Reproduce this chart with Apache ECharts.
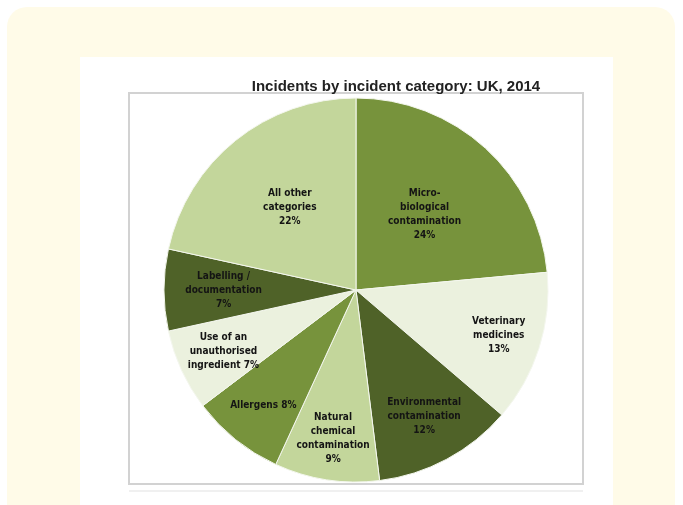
<!DOCTYPE html>
<html>
<head>
<meta charset="utf-8">
<script src="https://cdn.jsdelivr.net/npm/echarts@6/dist/echarts.min.js"></script>
<style>
html,body{margin:0;padding:0;background:#ffffff;}
#chart{width:683px;height:505px;}
</style>
</head>
<body>
<div id="chart"></div>
<script>
// ---- data ----
var titleText = 'Incidents by incident category: UK, 2014';
var categories = [
  'Micro-\nbiological\ncontamination',
  'Veterinary\nmedicines',
  'Environmental\ncontamination',
  'Natural\nchemical\ncontamination',
  'Allergens',
  'Use of an\nunauthorised\ningredient',
  'Labelling /\ndocumentation',
  'All other\ncategories'
];
var values = [24, 13, 12, 9, 8, 7, 7, 22];
var pctSeparators = ['\n', '\n', '\n', '\n', ' ', ' ', '\n', '\n'];

// ---- style ----
var sliceColors = ['#77933c', '#ebf1de', '#4f6228', '#c3d69b', '#77933c', '#ebf1de', '#4f6228', '#c3d69b'];
var labelRadiusFrac = [0.53, 0.78, 0.75, 0.78, 0.77, 0.76, 0.69, 0.55];
var cx = 356, cy = 290, R = 192;

var chart = echarts.init(document.getElementById('chart'), null, {renderer: 'canvas'});

var data = categories.map(function (c, i) {
  return {name: c, value: values[i], itemStyle: {color: sliceColors[i]}};
});

var option = {
  backgroundColor: '#ffffff',
  animation: false,
  graphic: [
    {type: 'rect', z: -10, shape: {x: 7, y: 7, width: 668, height: 530, r: 20}, style: {fill: '#fffbe8'}},
    {type: 'rect', z: -9, shape: {x: 80, y: 57, width: 533, height: 460}, style: {fill: '#ffffff'}},
    {type: 'rect', z: -8, shape: {x: 129, y: 93, width: 454, height: 391}, style: {fill: 'none', stroke: '#d2d2d2', lineWidth: 2}},
    {type: 'line', z: -8, shape: {x1: 129, y1: 491, x2: 583, y2: 491}, style: {stroke: '#f0f0f0', lineWidth: 2}}
  ],
  title: {
    text: titleText,
    left: 391, top: 74, textAlign: 'center',
    textStyle: {fontFamily: 'Liberation Sans, Arial, sans-serif', fontWeight: 'bold', fontSize: 15, color: '#222'}
  },
  series: [{
    type: 'pie',
    center: [cx, cy],
    radius: [0, R],
    startAngle: 90,
    clockwise: true,
    data: data,
    itemStyle: {borderColor: '#f4f7ee', borderWidth: 1},
    labelLine: {show: false},
    label: {
      show: true,
      position: 'inside',
      formatter: function (p) {
        return p.name + pctSeparators[p.dataIndex] + p.value + '%';
      },
      fontFamily: '"Liberation Sans Narrow", "DejaVu Sans Condensed", Arial, sans-serif',
      fontWeight: 'bold',
      fontSize: 10,
      lineHeight: 14,
      color: '#141414',
      align: 'center'
    },
    labelLayout: function (p) {
      var lr = p.labelRect;
      var lx = lr.x + lr.width / 2, ly = lr.y + lr.height / 2;
      var vx = lx - cx, vy = ly - cy;
      var d = Math.sqrt(vx * vx + vy * vy) || 1;
      var target = labelRadiusFrac[p.dataIndex] * R;
      return {dx: vx / d * target - vx, dy: vy / d * target - vy};
    }
  }]
};
chart.setOption(option);
</script>
</body>
</html>
